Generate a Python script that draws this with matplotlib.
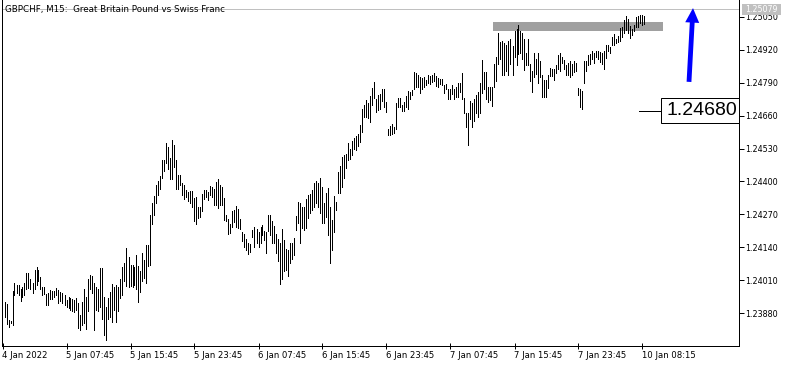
import numpy as np
import matplotlib
matplotlib.use("Agg")
import matplotlib.pyplot as plt
import matplotlib.patches as patches
import matplotlib.transforms as mtransforms

# ============================================
# Data: GBPCHF M15 bars (high / low)
# ============================================
TITLE = "GBPCHF, M15:  Great Britain Pound vs Swiss Franc"

highs = [
    1.23925, 1.23917, 1.23854, 1.23850, 1.23968, 1.24000, 1.23992, 1.23992, 1.23976, 1.23984,
    1.24000, 1.24039, 1.24039, 1.24015, 1.24000, 1.24051, 1.24063, 1.24051, 1.24023, 1.23984,
    1.23984, 1.23956, 1.23960, 1.23972, 1.23968, 1.23968, 1.23980, 1.23972, 1.23964, 1.23960,
    1.23952, 1.23932, 1.23944, 1.23940, 1.23936, 1.23932, 1.23940, 1.23921, 1.23873, 1.23925,
    1.23976, 1.23944, 1.24015, 1.24031, 1.24027, 1.24000, 1.23984, 1.23976, 1.24059, 1.24059,
    1.23944, 1.23905, 1.23940, 1.23964, 1.23996, 1.23984, 1.23992, 1.23984, 1.24015, 1.24063,
    1.24078, 1.24138, 1.24102, 1.24071, 1.24071, 1.24063, 1.24110, 1.24067, 1.24047, 1.24118,
    1.24090, 1.24149, 1.24149, 1.24268, 1.24315, 1.24343, 1.24386, 1.24402, 1.24422, 1.24485,
    1.24485,
    1.24552, 1.24536, 1.24493, 1.24564, 1.24544, 1.24485, 1.24426, 1.24426, 1.24394, 1.24386,
    1.24366, 1.24359, 1.24363, 1.24363, 1.24335, 1.24339, 1.24299, 1.24299, 1.24351, 1.24366,
    1.24366, 1.24359, 1.24382, 1.24378, 1.24370, 1.24398, 1.24410, 1.24386, 1.24378, 1.24335,
    1.24268, 1.24252, 1.24232, 1.24284, 1.24288, 1.24303, 1.24291, 1.24252, 1.24201, 1.24193,
    1.24173, 1.24157, 1.24153, 1.24209, 1.24220, 1.24213, 1.24201, 1.24220, 1.24228, 1.24205,
    1.24201, 1.24268, 1.24268, 1.24244, 1.24224, 1.24193, 1.24173, 1.24157, 1.24213, 1.24169,
    1.24134, 1.24130, 1.24157, 1.24157, 1.24177, 1.24264, 1.24319, 1.24315, 1.24299, 1.24299,
    1.24331, 1.24347, 1.24351, 1.24366, 1.24394, 1.24402, 1.24394, 1.24414, 1.24378, 1.24315,
    1.24355, 1.24374,
    1.24299, 1.24248, 1.24343, 1.24319, 1.24437, 1.24461, 1.24496, 1.24505, 1.24508, 1.24552,
    1.24528, 1.24560, 1.24572, 1.24579, 1.24587, 1.24623, 1.24686, 1.24702, 1.24721, 1.24710,
    1.24737, 1.24769, 1.24793, 1.24725, 1.24741, 1.24745, 1.24765, 1.24765, 1.24714, 1.24607,
    1.24619, 1.24627, 1.24615, 1.24710, 1.24729, 1.24729, 1.24702, 1.24714, 1.24737, 1.24757,
    1.24753, 1.24761, 1.24832, 1.24828, 1.24820, 1.24812, 1.24808, 1.24812, 1.24800, 1.24820,
    1.24816, 1.24820, 1.24828, 1.24816, 1.24808, 1.24804, 1.24804, 1.24781, 1.24785, 1.24765,
    1.24765, 1.24781, 1.24765, 1.24773, 1.24789, 1.24789, 1.24828, 1.24729, 1.24670, 1.24670,
    1.24718, 1.24710, 1.24725, 1.24741, 1.24753, 1.24789, 1.24879, 1.24832,
    1.24832, 1.24773, 1.24773, 1.24773, 1.24864, 1.24891, 1.24986, 1.24950, 1.24954, 1.24946,
    1.24938, 1.24954, 1.24962, 1.24935, 1.24994, 1.25002, 1.25017, 1.24994, 1.24986, 1.24962,
    1.24907, 1.24962, 1.24864, 1.24836, 1.24907, 1.24883, 1.24907, 1.24875, 1.24820, 1.24800,
    1.24800, 1.24820, 1.24847, 1.24844, 1.24844, 1.24860, 1.24899, 1.24907, 1.24891, 1.24879,
    1.24860, 1.24867, 1.24875, 1.24864, 1.24875, 1.24867, 1.24769, 1.24765, 1.24757, 1.24875,
    1.24875, 1.24899, 1.24903, 1.24915, 1.24907, 1.24915, 1.24915, 1.24911, 1.24907, 1.24915,
    1.24938, 1.24938, 1.24931, 1.24970, 1.24982, 1.24962, 1.24974, 1.25006, 1.25009, 1.25037,
    1.25053, 1.25041, 1.25013, 1.25002, 1.25017, 1.25049, 1.25053, 1.25057, 1.25057, 1.25053,
]

lows = [
    1.23865, 1.23838, 1.23826, 1.23842, 1.23834, 1.23952, 1.23960, 1.23952, 1.23929, 1.23944,
    1.23952, 1.23976, 1.23980, 1.23976, 1.23960, 1.23976, 1.23992, 1.24007, 1.23976, 1.23952,
    1.23956, 1.23913, 1.23913, 1.23936, 1.23936, 1.23944, 1.23952, 1.23921, 1.23929, 1.23921,
    1.23913, 1.23905, 1.23901, 1.23893, 1.23889, 1.23885, 1.23893, 1.23822, 1.23814, 1.23834,
    1.23842, 1.23818, 1.23889, 1.23976, 1.23960, 1.23814, 1.23893, 1.23889, 1.23905, 1.23858,
    1.23794, 1.23775, 1.23858, 1.23865, 1.23846, 1.23893, 1.23846, 1.23889, 1.23940, 1.23952,
    1.24007, 1.23988, 1.23984, 1.23988, 1.23984, 1.23992, 1.23976, 1.23925, 1.23964, 1.24007,
    1.24019, 1.24000, 1.24067, 1.24071, 1.24232, 1.24268, 1.24315, 1.24347, 1.24370, 1.24414,
    1.24441,
    1.24473, 1.24449, 1.24410, 1.24410, 1.24457, 1.24370, 1.24370, 1.24386, 1.24347, 1.24331,
    1.24339, 1.24323, 1.24315, 1.24299, 1.24244, 1.24232, 1.24256, 1.24260, 1.24284, 1.24331,
    1.24339, 1.24327, 1.24347, 1.24339, 1.24307, 1.24307, 1.24295, 1.24307, 1.24307, 1.24248,
    1.24244, 1.24193, 1.24197, 1.24220, 1.24240, 1.24220, 1.24217, 1.24213, 1.24165, 1.24142,
    1.24130, 1.24114, 1.24122, 1.24181, 1.24142, 1.24157, 1.24142, 1.24157, 1.24189, 1.24169,
    1.24118, 1.24205, 1.24189, 1.24157, 1.24157, 1.24118, 1.24086, 1.23996, 1.24015, 1.24047,
    1.24051, 1.24027, 1.24078, 1.24094, 1.24110, 1.24209, 1.24236, 1.24157, 1.24217, 1.24209,
    1.24217, 1.24256, 1.24276, 1.24288, 1.24299, 1.24315, 1.24299, 1.24276, 1.24236, 1.24236,
    1.24260, 1.24189,
    1.24078, 1.24130, 1.24201, 1.24288, 1.24355, 1.24355, 1.24378, 1.24414, 1.24453, 1.24485,
    1.24489, 1.24505, 1.24528, 1.24524, 1.24540, 1.24556, 1.24595, 1.24654, 1.24654, 1.24650,
    1.24635, 1.24702, 1.24729, 1.24674, 1.24682, 1.24686, 1.24718, 1.24694, 1.24674, 1.24583,
    1.24583, 1.24587, 1.24591, 1.24607, 1.24694, 1.24694, 1.24678, 1.24678, 1.24694, 1.24686,
    1.24725, 1.24741, 1.24765, 1.24773, 1.24773, 1.24749, 1.24765, 1.24773, 1.24781, 1.24789,
    1.24785, 1.24793, 1.24796, 1.24777, 1.24773, 1.24785, 1.24781, 1.24749, 1.24765, 1.24725,
    1.24725, 1.24745, 1.24725, 1.24733, 1.24733, 1.24753, 1.24725, 1.24670, 1.24615, 1.24544,
    1.24647, 1.24615, 1.24639, 1.24670, 1.24654, 1.24670, 1.24749, 1.24765,
    1.24725, 1.24714, 1.24721, 1.24698, 1.24773, 1.24796, 1.24864, 1.24883, 1.24820, 1.24820,
    1.24836, 1.24820, 1.24864, 1.24820, 1.24891, 1.24860, 1.24903, 1.24907, 1.24883, 1.24840,
    1.24860, 1.24860, 1.24796, 1.24753, 1.24812, 1.24824, 1.24789, 1.24812, 1.24733, 1.24733,
    1.24733, 1.24769, 1.24816, 1.24816, 1.24800, 1.24828, 1.24844, 1.24836, 1.24867, 1.24844,
    1.24820, 1.24820, 1.24812, 1.24820, 1.24832, 1.24836, 1.24741, 1.24694, 1.24686, 1.24789,
    1.24836, 1.24860, 1.24864, 1.24883, 1.24867, 1.24891, 1.24883, 1.24871, 1.24864, 1.24844,
    1.24887, 1.24915, 1.24907, 1.24938, 1.24938, 1.24946, 1.24950, 1.24954, 1.24970, 1.24986,
    1.24998, 1.24986, 1.24966, 1.24978, 1.24994, 1.25009, 1.25009, 1.25025, 1.25017, 1.25021,
]

# time axis: one label every 32 bars (8 hours of M15)
time_labels = ["4 Jan 2022", "5 Jan 07:45", "5 Jan 15:45", "5 Jan 23:45", "6 Jan 07:45",
               "6 Jan 15:45", "6 Jan 23:45", "7 Jan 07:45", "7 Jan 15:45", "7 Jan 23:45",
               "10 Jan 08:15"]
time_label_bars = [-1, 31, 63, 95, 127, 159, 191, 223, 255, 287, 319]

price_ticks = [1.23880, 1.24010, 1.24140, 1.24270, 1.24400,
               1.24530, 1.24660, 1.24790, 1.24920, 1.25050]

# chart objects
bid_price = 1.25079
zone_prices = (1.24995, 1.25029)
zone_bars = (244.25, 329.25)
label_price = 1.24680
label_bars = (317.25, 328.25)     # pointer start, box start
arrow_start = (342.25, 1.24793)
arrow_end = (344.25, 1.25084)

# ============================================
# Figure
# ============================================
W, H = 792, 367
plt.rcParams['font.family'] = ['DejaVu Sans']

fig = plt.figure(figsize=(W / 100, H / 100), dpi=100)
ax = fig.add_axes([2 / W, 21 / H, 737 / W, 346 / H])
ax.set_xlim(-1.25, 367.25)
ax.set_ylim(1.23751, 1.25116)

x = np.arange(len(highs))
ax.vlines(x, lows, highs, colors='black', linewidth=0.72, antialiased=False, zorder=3)

# supply zone rectangle
ax.add_patch(patches.Rectangle((zone_bars[0], zone_prices[0]), zone_bars[1] - zone_bars[0],
                               zone_prices[1] - zone_prices[0], facecolor='#a0a0a0',
                               edgecolor='none', zorder=2))

# bid line + label on price scale
ax.axhline(bid_price, color='#c0c0c0', linewidth=0.72, zorder=1)
blend = mtransforms.blended_transform_factory(ax.transAxes, ax.transData)
ax.add_patch(patches.Rectangle((740 / 737, bid_price - 0.00021), 39 / 737, 0.00042,
                               transform=blend, facecolor='#c0c0c0', edgecolor='none',
                               clip_on=False, zorder=10))
ax.text(759.5 / 737, bid_price, f"{bid_price:.5f}", transform=blend, color='white',
        fontsize=5.7, ha='center', va='center', clip_on=False, zorder=11)

# price label object
ax.plot(label_bars, [label_price, label_price], color='black', linewidth=0.72, zorder=4)
ax.add_patch(patches.Rectangle((label_bars[1], label_price - 0.00051),
                               367.25 - label_bars[1], 0.00102, facecolor='white',
                               edgecolor='black', linewidth=0.72, clip_on=False, zorder=5))
ax.text((label_bars[1] + 367.25) / 2 + 1, label_price, f"{label_price:.5f}",
        fontsize=14, family='Liberation Sans', ha='center', va='center', zorder=6)

# blue arrow
ax.add_patch(patches.FancyArrowPatch(arrow_start, arrow_end,
                                     arrowstyle='simple,head_width=1.4,head_length=1.45,tail_width=0.48',
                                     mutation_scale=7.2, color='#0000ff', linewidth=0,
                                     shrinkA=0, shrinkB=0, zorder=7))

# axes styling
for side in ['left', 'bottom', 'right']:
    ax.spines[side].set_linewidth(0.72)
    ax.spines[side].set_color('black')
ax.spines['top'].set_visible(False)

ax.yaxis.tick_right()
ax.set_yticks(price_ticks)
ax.set_yticklabels([f"{p:.5f}" for p in price_ticks])
ax.tick_params(axis='y', direction='out', length=3.6, width=0.72, pad=1,
               labelsize=5.8, colors='black')

ax.set_xticks(time_label_bars)
ax.set_xticklabels(time_labels)
ax.tick_params(axis='x', direction='inout', length=4, width=0.72, pad=1.5,
               labelsize=6.1, colors='black')
plt.setp(ax.get_xticklabels(), ha='left')

fig.text(5 / W, 1 - 9.5 / H, TITLE, fontsize=6.3, ha='left', va='center')

fig.savefig('out.png', dpi=100)
